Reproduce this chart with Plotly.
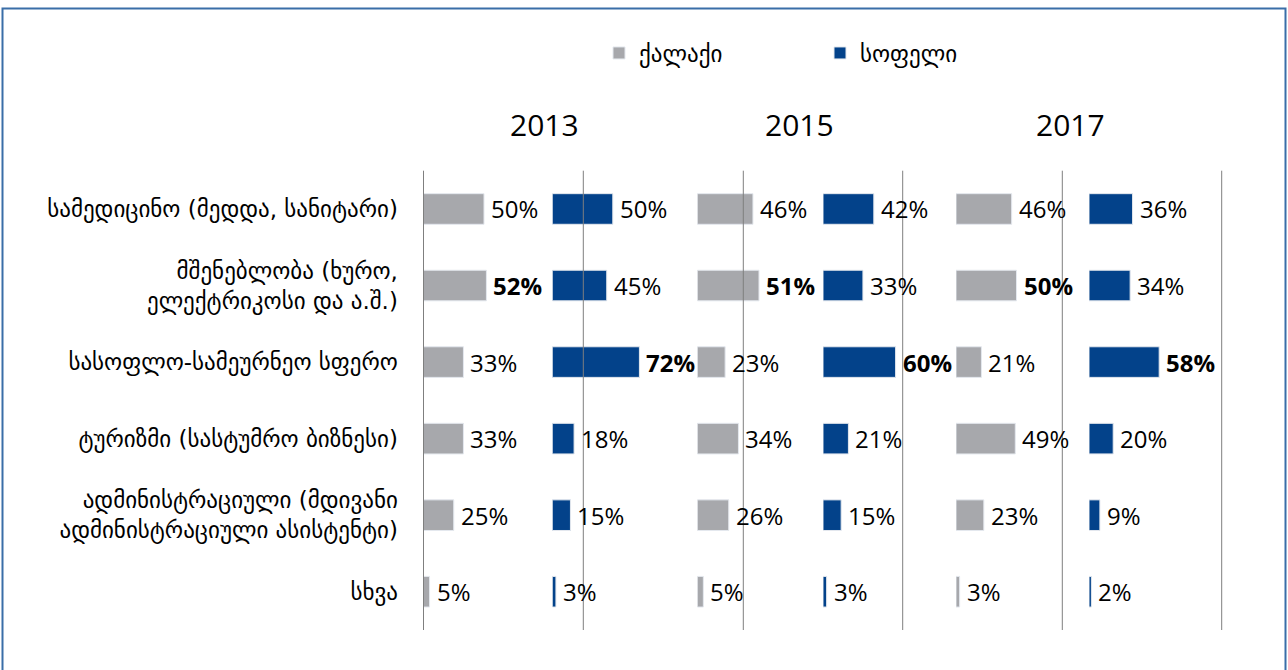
import plotly.graph_objects as go

# ---------------- data ----------------
categories = [
    "სამედიცინო (მედდა, სანიტარი)",
    "მშენებლობა (ხურო,<br>ელექტრიკოსი და ა.შ.)",
    "სასოფლო-სამეურნეო სფერო",
    "ტურიზმი (სასტუმრო ბიზნესი)",
    "ადმინისტრაციული (მდივანი<br>ადმინისტრაციული ასისტენტი)",
    "სხვა",
]
years = ["2013", "2015", "2017"]
series_names = ["ქალაქი", "სოფელი"]

city_2013 = [50, 52, 33, 33, 25, 5]
village_2013 = [50, 45, 72, 18, 15, 3]
city_2015 = [46, 51, 23, 34, 26, 5]
village_2015 = [42, 33, 60, 21, 15, 3]
city_2017 = [46, 50, 21, 49, 23, 3]
village_2017 = [36, 34, 58, 20, 9, 2]

# ---------------- layout constants ----------------
W, H = 1288, 670
SCALE = 1.21  # px per percent
panel_starts = [423.5, 552.3, 697.3, 823.0, 956.0, 1089.0]
panel_end_last = 1222.0
plot_top, plot_bottom = 170.7, 630.0
grid_px = [423.5, 583.3, 743.3, 902.7, 1062.3, 1221.7]
year_centers = [544.5, 799.5, 1070.5]

GRAY = "#A7A8AC"
BLUE = "#03428A"
colors = [GRAY, BLUE]

panels = [
    (city_2013, 0), (village_2013, 1),
    (city_2015, 0), (village_2015, 1),
    (city_2017, 0), (village_2017, 1),
]

fig = go.Figure()
ydom = [1 - plot_bottom / H, 1 - plot_top / H]
annotations = []

for i, (vals, s) in enumerate(panels):
    ax = "x" if i == 0 else f"x{i+1}"
    axkey = "xaxis" if i == 0 else f"xaxis{i+1}"
    start = panel_starts[i]
    end = panel_starts[i + 1] if i + 1 < len(panel_starts) else panel_end_last
    fig.add_trace(go.Bar(
        x=vals, y=categories, orientation="h",
        xaxis=ax, yaxis="y",
        name=series_names[s], legendgroup=series_names[s],
        showlegend=(i < 2),
        marker=dict(color=colors[s], line=dict(color="#E4E8EE", width=1)),
        width=0.4, hoverinfo="skip",
    ))
    fig.layout[axkey] = dict(
        domain=[start / W, end / W], range=[0, (end - start) / SCALE],
        visible=False, anchor="y", fixedrange=True,
    )
    vmax = max(vals)
    for c, v in zip(categories, vals):
        txt = f"<b>{v}%</b>" if v == vmax else f"{v}%"
        annotations.append(dict(
            x=v, y=c, xref=ax, yref="y", text=txt, showarrow=False,
            xanchor="left", yanchor="middle", xshift=5,
            font=dict(family="Open Sans", size=24, color="#000000"),
        ))

for yc, yr in zip(year_centers, years):
    annotations.append(dict(
        x=yc / W, y=1 - 124 / H, xref="paper", yref="paper", text=yr,
        showarrow=False, xanchor="center", yanchor="middle",
        font=dict(family="Open Sans", size=30, color="#000000"),
    ))

shapes = []
for gx in grid_px:
    shapes.append(dict(type="line", xref="paper", yref="paper",
                       x0=gx / W, x1=gx / W, y0=ydom[0], y1=ydom[1],
                       line=dict(color="#7F7F7F", width=1)))
# outer frame
shapes.append(dict(type="rect", xref="paper", yref="paper",
                   x0=2.5 / W, x1=1285.5 / W, y0=-0.1, y1=1 - 8.5 / H,
                   line=dict(color="#3A6EA8", width=2), fillcolor="rgba(0,0,0,0)"))

fig.update_layout(
    width=W, height=H,
    margin=dict(l=0, r=0, t=0, b=0),
    paper_bgcolor="white", plot_bgcolor="rgba(0,0,0,0)",
    barmode="group",
    yaxis=dict(
        domain=ydom, type="category", categoryorder="array",
        categoryarray=categories, autorange="reversed",
        showgrid=False, showline=False, zeroline=False,
        ticks="outside", ticklen=20, tickcolor="rgba(0,0,0,0)",
        tickfont=dict(family="DejaVu Sans", size=23, color="#000000"),
        anchor="x", fixedrange=True,
    ),
    legend=dict(
        orientation="h", x=599 / W, y=1 - 53 / H, xanchor="left", yanchor="middle",
        font=dict(family="DejaVu Sans", size=23, color="#000000"),
        entrywidth=176, entrywidthmode="pixels",
        bgcolor="rgba(0,0,0,0)",
    ),
    annotations=annotations,
    shapes=shapes,
    showlegend=True,
)

fig.write_html("out.html", config={"displayModeBar": False},
               post_script="document.body.style.margin='0';")
